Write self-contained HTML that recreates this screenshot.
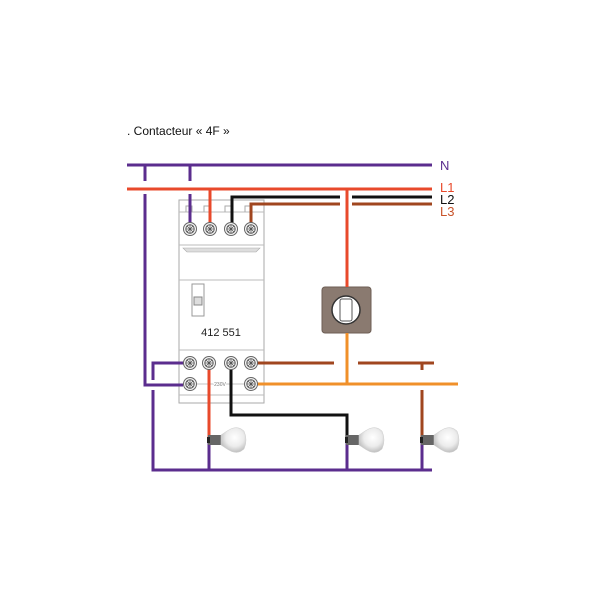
<!DOCTYPE html>
<html><head><style>body{margin:0;background:#fff}svg{display:block}</style></head><body>
<svg width="600" height="600" xmlns="http://www.w3.org/2000/svg" font-family="Liberation Sans, sans-serif">
<defs>
<radialGradient id="bulb" cx="55%" cy="40%" r="65%"><stop offset="0" stop-color="#fff"/><stop offset="0.55" stop-color="#ececec"/><stop offset="1" stop-color="#b5b5b5"/></radialGradient>
<g id="lamp">
<rect x="-3" y="-5" width="13" height="10" fill="#666"/>
<rect x="-4" y="-3" width="3" height="6" fill="#222"/>
<path d="M10,-5 L16,-9 Q26,-16 33,-9 Q37,0 33,9 Q26,16 16,9 L10,5 Z" fill="url(#bulb)" stroke="#d0d0d0" stroke-width="0.5"/>
</g>
<g id="term"><circle r="6.5" fill="#f4f4f4" stroke="#666" stroke-width="1"/><circle r="4.2" fill="#fff" stroke="#555" stroke-width="1"/><path d="M-3,-3L3,3M-3,3L3,-3M0,-4V4M-4,0H4" stroke="#555" stroke-width="0.8"/></g>
</defs>
<text x="127" y="135" font-size="12" fill="#111">. Contacteur « 4F »</text>
<rect x="179" y="200" width="85" height="203" fill="#fff" stroke="#aaa"/>
<path d="M179,212H264M179,245H264M179,280H264M179,350H264M179,395H264" stroke="#bbb" fill="none"/>
<path d="M186,212v-6h6v6M204,212v-6h6v6M225,212v-6h6v6M245,212v-6h6v6" stroke="#aaa" fill="none"/>
<path d="M183,248H260L256,252H187Z" fill="#ddd" stroke="#aaa" stroke-width="0.6"/>
<rect x="192" y="284" width="12" height="32" fill="#fff" stroke="#999"/>
<rect x="194" y="297" width="8" height="8" fill="#ddd" stroke="#888"/>
<text x="221" y="336" font-size="11" text-anchor="middle" fill="#222">412 551</text>
<line x1="196" y1="384" x2="245" y2="384" stroke="#888" stroke-width="0.6"/>
<text x="220" y="386" font-size="5" text-anchor="middle" fill="#777" style="paint-order:stroke" stroke="#fff" stroke-width="2">230V</text>
<rect x="322" y="287" width="49" height="46" rx="3" fill="#8a7a70" stroke="#6d5e55"/>
<circle cx="346" cy="310" r="14" fill="#fff" stroke="#333" stroke-width="1.5"/>
<rect x="340" y="299" width="12" height="22" rx="2" fill="#fff" stroke="#555"/>
<g fill="none" stroke-width="3">
<path d="M127,165H432" stroke="#5b2d8e"/>
<path d="M145,165V181M145,194V385H183M190,165V181M190,194V229" stroke="#5b2d8e"/>
<path d="M190,363H153V380M153,390V470H432M209,440V470M347,440V470M422,440V470" stroke="#5b2d8e"/>
<path d="M127,189H432M210,189V229M347,189V287" stroke="#e8492b"/>
<path d="M209,363V440" stroke="#e8492b"/>
<path d="M232,229V197H340M352,197H432" stroke="#111"/>
<path d="M231,363V415H347V440" stroke="#111"/>
<path d="M251,229V204H340M352,204H432" stroke="#a0461f"/>
<path d="M256,363H334M358,363H434M422,363V370M422,390V440" stroke="#a0461f"/>
<path d="M256,384H458M347,333V384" stroke="#f0902a"/>
</g>
<use href="#term" x="190" y="229"/><use href="#term" x="210" y="229"/><use href="#term" x="231" y="229"/><use href="#term" x="251" y="229"/>
<use href="#term" x="190" y="363"/><use href="#term" x="209" y="363"/><use href="#term" x="231" y="363"/><use href="#term" x="251" y="363"/>
<use href="#term" x="190" y="384"/><use href="#term" x="251" y="384"/>
<use href="#lamp" x="211" y="440"/><use href="#lamp" x="349" y="440"/><use href="#lamp" x="424" y="440"/>
<g font-size="13">
<text x="440" y="170" fill="#5b2d8e">N</text>
<text x="440" y="192" fill="#e8492b">L1</text>
<text x="440" y="204" fill="#111">L2</text>
<text x="440" y="216" fill="#c8532a">L3</text>
</g>
</svg>
</body></html>
